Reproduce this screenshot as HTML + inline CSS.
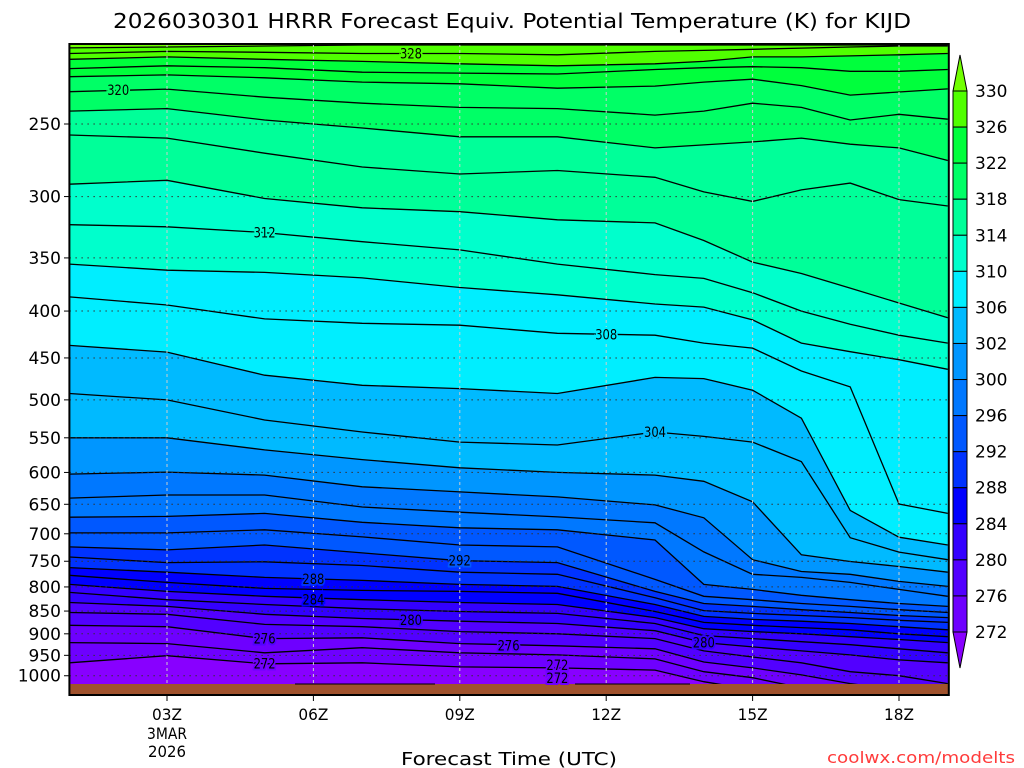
<!DOCTYPE html>
<html><head><meta charset="utf-8"><style>
html,body{margin:0;padding:0;background:#fff;}
svg{display:block;font-family:"DejaVu Sans","Liberation Sans",sans-serif;}
</style></head><body>
<svg id="chart" width="1024" height="768" viewBox="0 0 1024 768" xmlns="http://www.w3.org/2000/svg">
<defs><clipPath id="plotclip"><rect x="69.4" y="44" width="879.4" height="651"/></clipPath></defs>
<text x="512" y="28" text-anchor="middle" font-size="20" textLength="798" lengthAdjust="spacingAndGlyphs" fill="#000">2026030301 HRRR Forecast Equiv. Potential Temperature (K) for KIJD</text>
<g id="fills" clip-path="url(#plotclip)"></g>
<g id="lines" clip-path="url(#plotclip)"></g>
<g id="grid" clip-path="url(#plotclip)"></g>
<rect x="69.4" y="684" width="879.4" height="11" fill="#a0522d"/>
<line x1="295" y1="684" x2="435" y2="684" stroke="#000" stroke-width="1"/>
<line x1="575" y1="684" x2="690" y2="684" stroke="#000" stroke-width="1"/>
<g id="labels"></g>
<rect x="69.4" y="44" width="879.4" height="651" fill="none" stroke="#000" stroke-width="2"/>
<g id="yaxis"></g>
<g id="xaxis"></g>
<text x="509" y="765" text-anchor="middle" font-size="18" textLength="216" lengthAdjust="spacingAndGlyphs">Forecast Time (UTC)</text>
<text x="1015" y="763" text-anchor="end" font-size="16" fill="#ff3b3b" textLength="188" lengthAdjust="spacingAndGlyphs">coolwx.com/modelts</text>
<g id="colorbar"></g>
</svg>
<script>
// forecast hours since 01Z
const hours = [0,2,4,6,8,10,12,13,14,15,16,17,18];
const levels = [272,274,276,278,280,282,284,286,288,290,292,294,296,298,300,302,304,306,308,310,312,314,316,318,320,322,324,326,328,330];
// pressure (hPa) of each isentrope at each hour
const p272=[968,951,970.5,968,978,980.5,986,1015,1036,1049,1054,1057,1062];
const p274=[920,922.5,944,932,944,949,958.5,990,1005,1031,1041,1049,1054];
const p276=[881,884,911,909,922.5,927.5,934.5,966,980.5,998,1020,1036,1041];
const p278=[853,857,879,884,895,900,911,939.5,954,968,990,1000,1020];
const p280=[832,840,857,866,872,877,893,920,930,939.5,949,961,968];
const p282=[811,826,836,845,851,855,877,904,911,918,925,934.5,944];
const p284=[795,809,819,826,832,836,864,888.5,895,900,906.5,913,920];
const p286=[777,791,803,807,809,813,851,874.5,881,886,891,900,906.5];
const p288=[762,771,781,787,795,799,836,861.5,868,872,877,884,891];
const p290=[742,752.5,751,758,771,775,822,849,855,859.5,864,870,874.5];
const p292=[723.5,729,720,734.5,749,752.5,809,834,840,847,853,859.5,864];
const p294=[698.5,698.5,693,705.5,720,723.5,785,819,826,834,840,847,853];
const p296=[671.5,670,665,680,689.5,693,711,795,805,817,826,834,840];
const p298=[640,635,635,654.5,663,671,681,732.5,775,781,791,805,819];
const p300=[602.5,599.5,604,622,630,638,651,672.5,747,769.5,775,789,799];
const p302=[550,550,567,581,593,600,604,613.5,646,738,750.5,760,771];
const p304=[492,500,526,542,556,560,542,548,556,584,707,733,747];
const p306=[436,443.5,470,482,486,492,472.5,474,488,523.5,660,706,720];
const p308=[386,394,408,412.5,414.5,423,425,433.5,439,465,484,649.5,665];
const p310=[355.5,361,363,368,377,384,393,396,409,433.5,443,452,463];
const p312=[322,323.7,328.4,336,343,355.5,365,368.5,382,400,413.4,425,433.5];
const p314=[290.8,288,301.5,308.6,311.6,318,320.5,335,353.7,364,377.6,392,406.7];
const p316=[257,259,269,278.5,283.5,281,285.8,296.5,303.7,295,290,302.3,307.2];
const p318=[242,240.5,247.5,252.5,258.2,258.2,265.5,263.5,261.5,259,263,265.5,274];
const p320=[230.5,229,233.7,237.3,239.8,240.5,244.5,242,237.3,239.8,247.5,244,247];
const p322=[222,221,222.6,225,226,228.5,227.3,225,223.4,227,232.5,230.7,228.9];
const p324=[217.5,216,217,219.5,220,220.5,218,217,216.5,217,219,219,218];
const p326=[212.5,211.2,212.5,213.6,214.9,216,214.9,213.6,211.2,211.2,210.7,210.1,209.4];
const p328=[209.4,208.3,208.8,209.4,209.4,210.1,208.3,207.8,207.2,206.6,206,205.5,205.5];
const p330=[206.5,206,205.5,205,205,205,205,205,205,205,205,205,205];
const isentropes=[p272,p274,p276,p278,p280,p282,p284,p286,p288,p290,p292,p294,p296,p298,p300,p302,p304,p306,p308,p310,p312,p314,p316,p318,p320,p322,p324,p326,p328,p330];
// colour scale boundaries (K) and colours
const cbBounds=[272,276,280,284,288,292,296,300,302,306,310,314,318,322,326,330];
const cbColors=["#8800ff","#6e00ff","#5200ff","#3300ff","#0000ff","#0033ff","#0058ff","#0078ff","#0096ff","#00baff","#00eeff","#00ffcc","#00ff99","#00ff66","#00ff3c","#50ff00","#70ff00"];
const yTicks=[250,300,350,400,450,500,550,600,650,700,750,800,850,900,950,1000];
const xTickHours=[2,5,8,11,14,17];
const xTickLabels=["03Z","06Z","09Z","12Z","15Z","18Z"];
const contourLabels=[
 {t:"328",h:7,p:209.4},{t:"320",h:1,p:229.5},{t:"312",h:4,p:328.4},{t:"308",h:11,p:424},
 {t:"304",h:12,p:542},{t:"292",h:8,p:749},{t:"288",h:5,p:784},{t:"284",h:5,p:826},
 {t:"280",h:7,p:869},{t:"280",h:13,p:920},{t:"276",h:4,p:911},{t:"276",h:9,p:927},
 {t:"272",h:4,p:970},{t:"272",h:10,p:973},{t:"272",h:10,p:1006}];

const NS="http://www.w3.org/2000/svg";
const X0=69.4, DX=48.8;
function xOf(h){return X0+DX*h;}
function yOf(p){return 124+398*Math.log(p/250);}
function colorAbove(th){let i=0;while(i<cbBounds.length&&th>=cbBounds[i])i++;return cbColors[i];}
function mk(tag,attrs,parent){const e=document.createElementNS(NS,tag);for(const k in attrs)e.setAttribute(k,attrs[k]);parent.appendChild(e);return e;}

const fills=document.getElementById('fills');
const bgRect=mk('rect',{x:X0,y:44,width:880,height:651,fill:cbColors[0]},fills);


const linesG=document.getElementById('lines');
levels.forEach((lv,i)=>{
  const pts=isentropes[i].map((p,j)=>xOf(hours[j]).toFixed(1)+','+yOf(p).toFixed(1));
  const poly=mk('polygon',{points:pts.join(' ')+' '+xOf(18)+',30 '+X0+',30',fill:colorAbove(lv)},fills);
  
  
  const pl=mk('polyline',{points:pts.join(' '),fill:'none',stroke:'#000','stroke-width':1.3},linesG);
  
  
});

const grid=document.getElementById('grid');
yTicks.forEach(p=>{
  const l=mk('line',{x1:X0,x2:949,y1:yOf(p),y2:yOf(p),stroke:'#333','stroke-width':1,'stroke-dasharray':'1.5 4.5'},grid);
  
  
});
xTickHours.forEach(h=>{
  const l=mk('line',{x1:xOf(h),x2:xOf(h),y1:44,y2:695,stroke:'#cccccc','stroke-width':1,'stroke-dasharray':'3 3'},grid);
  
  
});

const yax=document.getElementById('yaxis');
yTicks.forEach(p=>{
  const y=yOf(p);
  mk('line',{x1:64,x2:69,y1:y,y2:y,stroke:'#000'},yax);
  const t=mk('text',{x:61,y:y+6,'text-anchor':'end','font-size':17},yax);
  t.textContent=p;
  
  
});
const xax=document.getElementById('xaxis');
xTickHours.forEach((h,i)=>{
  const x=xOf(h);
  mk('line',{x1:x,x2:x,y1:695,y2:701,stroke:'#000'},xax);
  const t=mk('text',{x:x,y:720,'text-anchor':'middle','font-size':16,textLength:30,lengthAdjust:'spacingAndGlyphs'},xax);
  t.textContent=xTickLabels[i];
  
  
});
const d1=mk('text',{x:xOf(2),y:739,'text-anchor':'middle','font-size':16,textLength:40,lengthAdjust:'spacingAndGlyphs'},xax);
d1.textContent='3MAR';


const d2=mk('text',{x:xOf(2),y:757,'text-anchor':'middle','font-size':16,textLength:38,lengthAdjust:'spacingAndGlyphs'},xax);
d2.textContent='2026';



const lab=document.getElementById('labels');
contourLabels.forEach(c=>{
  const x=xOf(c.h), y=yOf(c.p);
  const th=+c.t;
  const t=mk('text',{x:x,y:y+5,'text-anchor':'middle','font-size':14,fill:'#000',stroke:colorAbove(th),'stroke-width':4,'paint-order':'stroke',textLength:22,lengthAdjust:'spacingAndGlyphs'},lab);
  t.textContent=c.t;
  
  
});

// colour bar
const cb=document.getElementById('colorbar');
const cbTop=91, cbStep=(632-91)/15, cx0=953, cx1=967;
const cbUpperTri=mk('polygon',{points:`${cx0},${cbTop} ${cx1},${cbTop} ${(cx0+cx1)/2},55`,fill:cbColors[16],stroke:'#000'},cb);


for(let k=0;k<15;k++){
  const r=mk('rect',{x:cx0,y:cbTop+k*cbStep,width:cx1-cx0,height:cbStep,fill:cbColors[15-k],stroke:'#000'},cb);
  
  
}
const cbLowerTri=mk('polygon',{points:`${cx0},632 ${cx1},632 ${(cx0+cx1)/2},668`,fill:cbColors[0],stroke:'#000'},cb);


for(let k=0;k<16;k++){
  const t=mk('text',{x:975,y:cbTop+k*cbStep+6,'font-size':17},cb);
  t.textContent=cbBounds[15-k];
  
  
}
</script>
</body></html>
